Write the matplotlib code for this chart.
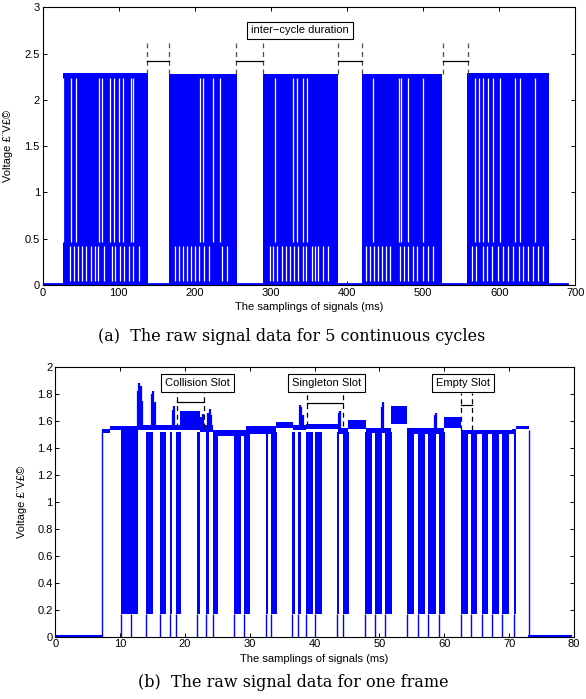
import matplotlib
matplotlib.use("Agg")
import matplotlib.pyplot as plt
from matplotlib.ticker import FormatStrFormatter

plt.rcParams['font.family'] = ['Liberation Sans', 'DejaVu Sans']

BLUE = "#0000ff"

# ---- (a) five cycles ----
burst_start = [26.3, 166.0, 289.5, 420.0, 558.0]
burst_end = [139.0, 255.0, 388.0, 525.0, 665.7]
burst_top = [2.29, 2.28, 2.28, 2.28, 2.29]
baseline_a = [0, 689]

# white gaps at the low level (signal dips below 0.42)
low_gaps = [35.9, 41.5, 46.8, 52.0, 56.9, 63.1, 68.7, 73.1, 81.0, 90.7, 95.0, 101.6, 106.8, 113.4, 119.0, 126.5,
            173.8, 179.5, 184.8, 189.2, 194.9, 200.1, 205.8, 211.6, 218.9, 235.2, 241.8,
            298.7, 303.0, 308.3, 314.0, 319.7, 325.0, 330.2, 335.9, 342.4, 346.0, 353.5, 357.8, 362.2, 367.9, 375.3,
            424.8, 430.1, 435.3, 441.0, 445.5, 451.1, 456.4, 469.5, 474.8, 480.4, 486.2, 492.2, 500.1, 506.7, 512.5,
            563.7, 569.4, 578.2, 584.2, 590.0, 598.7, 605.3, 611.8, 617.6, 626.3, 630.8, 638.1, 644.7, 651.3, 657.0]
# white gaps through the high part of the bursts
high_gaps = [27.0, 37.2, 43.8, 74.0, 77.5, 88.9, 94.1, 99.9, 106.0, 115.6, 119.0,
             206.7, 211.0, 224.2, 233.0,
             305.3, 329.3, 333.8, 341.6, 346.9,
             434.4, 468.2, 470.4, 480.0, 500.1,
             568.0, 573.3, 579.0, 585.5, 591.3, 600.9, 620.6, 627.2, 646.9]

cycle_marks = [(137.0, 166.0), (254.0, 289.5), (388.0, 419.0), (525.6, 558.5)]
mark_top_a, mark_bottom_a, span_y_a = 2.61, 2.28, 2.42

# ---- (b) one frame ----
rise_b, fall_b = 7.15, 73.0
baseline_b = [(0, 7.15), (73.0, 79.5)]
# high level of the signal: (start, end, low, high)
envelope = [(7.15, 8.5, 1.51, 1.54), (8.5, 10.1, 1.53, 1.565), (10.1, 12.7, 1.52, 1.565),
            (12.7, 18.0, 1.53, 1.57), (18.0, 19.2, 1.53, 1.57),
            (19.2, 22.3, 1.53, 1.67), (22.3, 24.3, 1.52, 1.57),
            (24.3, 29.4, 1.49, 1.53), (29.4, 34.0, 1.50, 1.56),
            (34.0, 36.6, 1.55, 1.595), (36.6, 38.6, 1.53, 1.57),
            (38.6, 43.6, 1.54, 1.58), (43.6, 45.1, 1.50, 1.55),
            (45.1, 47.9, 1.54, 1.61), (47.9, 51.75, 1.51, 1.55),
            (51.75, 54.3, 1.58, 1.71), (54.3, 59.95, 1.50, 1.55),
            (59.95, 62.5, 1.55, 1.63), (62.5, 70.4, 1.50, 1.53),
            (70.4, 71.0, 1.50, 1.54), (71.0, 73.0, 1.54, 1.56)]
# narrow overshoots on top of the high level
spike_x = [12.75, 12.95, 13.2, 13.35, 14.95, 15.1, 15.3, 18.15, 18.3, 22.5, 22.75, 23.6, 23.85, 24.05,
           37.8, 37.95, 38.2, 43.75, 43.95, 50.35, 50.5, 58.55, 58.75]
spike_top = [1.82, 1.88, 1.86, 1.75, 1.8, 1.82, 1.74, 1.68, 1.71, 1.63, 1.65, 1.66, 1.69, 1.64,
             1.72, 1.70, 1.64, 1.66, 1.675, 1.7, 1.74, 1.64, 1.66]
# dense reply blocks inside slots
slot_start = [10.06, 13.95, 16.1, 17.65, 18.6, 21.85, 23.3, 24.3, 27.6, 29.1, 32.5, 33.3, 36.5, 37.5,
              38.6, 40.1, 43.4, 44.4, 47.7, 49.3, 50.9, 54.3, 55.9, 57.5, 59.2, 62.5, 64.1, 65.75,
              67.4, 68.9, 70.8]
slot_end = [12.8, 15.0, 17.1, 18.05, 19.4, 22.25, 23.7, 25.1, 28.7, 30.05, 32.8, 34.2, 36.9, 37.95,
            39.7, 41.1, 43.8, 45.3, 48.8, 50.4, 51.9, 55.4, 57.0, 58.7, 60.1, 63.6, 65.1, 66.8,
            68.4, 69.95, 71.0]
slot_low = 0.17
drops = slot_start + [11.75]

labels_b = ["Collision Slot", "Singleton Slot", "Empty Slot"]
label_x = [21.9, 41.8, 62.9]
label_y = 1.88
marks_b = [(18.77, 22.88), (38.77, 44.3), (62.5, 64.2)]
mark_top_b = [1.825, 1.83, 1.81]
mark_bottom_b = [1.55, 1.56, 1.53]
span_y_b = [1.738, 1.733, 1.72]


def style_axes(ax, xmax, ymax, xstep, ystep):
    ax.set_xlim(0, xmax)
    ax.set_ylim(0, ymax)
    ax.set_xticks([i * xstep for i in range(int(round(xmax / xstep)) + 1)])
    ax.set_yticks([round(i * ystep, 2) for i in range(int(round(ymax / ystep)) + 1)])
    ax.xaxis.set_major_formatter(FormatStrFormatter('%g'))
    ax.yaxis.set_major_formatter(FormatStrFormatter('%g'))
    ax.tick_params(direction='in', top=True, right=True, length=3, width=0.7, labelsize=8, pad=2)
    for s in ax.spines.values():
        s.set_linewidth(0.8)
    ax.set_xlabel("The samplings of signals (ms)", fontsize=8)
    ax.set_ylabel("Voltage £¨V£©", fontsize=8)


fig = plt.figure(figsize=(5.86, 6.99), dpi=100)

# (a)
ax1 = fig.add_axes([0.0729, 0.5923, 0.9090, 0.3972])
for s, e, t in zip(burst_start, burst_end, burst_top):
    ax1.fill_between([s, e], 0, t, color=BLUE, linewidth=0)
ax1.vlines(low_gaps, 0.04, 0.42, color='white', lw=0.9)
ax1.vlines(high_gaps, 0.46, 2.24, color='white', lw=0.9)
ax1.plot(baseline_a, [0.01, 0.01], color=BLUE, lw=2)
for a, b in cycle_marks:
    ax1.vlines([a, b], mark_bottom_a, mark_top_a, color='0.3', lw=0.9, linestyles=(0, (4, 3)))
    ax1.plot([a, b], [span_y_a, span_y_a], color='black', lw=0.9)
ax1.text(338, 2.75, "inter\u2212cycle duration", fontsize=8, ha='center', va='center',
         bbox=dict(boxstyle='square,pad=0.35', fc='white', ec='black', lw=0.8))
style_axes(ax1, 700, 3, 100, 0.5)
ax1.xaxis.set_label_coords(0.5, -0.062)
ax1.yaxis.set_label_coords(-0.055, 0.5)

# (b)
ax2 = fig.add_axes([0.0944, 0.0894, 0.8851, 0.3856])
for s, e in zip(slot_start, slot_end):
    ax2.fill_between([s, e], slot_low, 1.52, color=BLUE, linewidth=0)
for s, e, lo, hi in envelope:
    ax2.fill_between([s, e], lo, hi, color=BLUE, linewidth=0)
ax2.vlines(spike_x, 1.53, spike_top, color=BLUE, lw=1.6)
ax2.vlines(drops, 0, slot_low, color=BLUE, lw=1.0)
ax2.vlines([rise_b, fall_b], 0, 1.53, color=BLUE, lw=1.0)
for a, b in baseline_b:
    ax2.plot([a, b], [0.005, 0.005], color=BLUE, lw=1.5)
for i in range(len(labels_b)):
    a, b = marks_b[i]
    ax2.vlines([a, b], mark_bottom_b[i], mark_top_b[i], color='black', lw=0.9, linestyles=(0, (4, 3)))
    ax2.plot([a, b], [span_y_b[i], span_y_b[i]], color='black', lw=0.9)
    ax2.text(label_x[i], label_y, labels_b[i], fontsize=8, ha='center', va='center',
             bbox=dict(boxstyle='square,pad=0.35', fc='white', ec='black', lw=0.8))
style_axes(ax2, 80, 2, 10, 0.2)
ax2.xaxis.set_label_coords(0.5, -0.064)
ax2.yaxis.set_label_coords(-0.054, 0.5)

# captions
fig.text(0.498, 0.518, "(a)  The raw signal data for 5 continuous cycles", family='DejaVu Serif',
         fontsize=11.5, ha='center', va='center')
fig.text(0.4997, 0.0236, "(b)  The raw signal data for one frame", family='DejaVu Serif',
         fontsize=11.5, ha='center', va='center')

fig.savefig("out.png", dpi=100)
plt.close(fig)
